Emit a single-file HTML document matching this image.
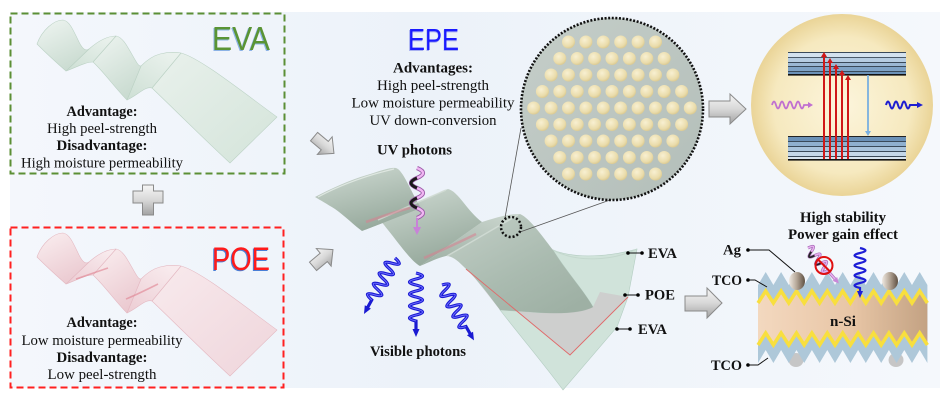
<!DOCTYPE html>
<html><head><meta charset="utf-8">
<style>
html,body{margin:0;padding:0;background:#fff;width:940px;height:413px;overflow:hidden;}
svg{display:block;}
.t{font-family:"Liberation Serif",serif;font-size:14.5px;fill:#111;}
.b{font-weight:bold;}
.s{font-family:"Liberation Sans",sans-serif;}
</style></head><body>
<svg width="940" height="413" viewBox="0 0 940 413" xmlns="http://www.w3.org/2000/svg">
<defs>
 <linearGradient id="bg" x1="0" x2="1" y1="0" y2="0">
  <stop offset="0" stop-color="#f4f7fc"/><stop offset="0.45" stop-color="#ecf2f9"/><stop offset="1" stop-color="#f5f8fc"/>
 </linearGradient>
 <linearGradient id="ag" x1="0" y1="0" x2="0" y2="1">
  <stop offset="0" stop-color="#f6f6f6"/><stop offset="0.5" stop-color="#d8d8d8"/><stop offset="1" stop-color="#a2a2a2"/>
 </linearGradient>
 <radialGradient id="dot" cx="0.4" cy="0.35" r="0.7">
  <stop offset="0" stop-color="#f8f0d2"/><stop offset="0.7" stop-color="#eadcab"/><stop offset="1" stop-color="#d8c68c"/>
 </radialGradient>
 <radialGradient id="sph" cx="0.5" cy="0.5" r="0.5">
  <stop offset="0" stop-color="#fcf5dc"/><stop offset="0.75" stop-color="#f6e9bf"/><stop offset="1" stop-color="#ead497"/>
 </radialGradient>
 <linearGradient id="bigc" x1="0" y1="0" x2="1" y2="1">
  <stop offset="0" stop-color="#c5cec9"/><stop offset="1" stop-color="#b3beb9"/>
 </linearGradient>
 <linearGradient id="cD" x1="0.2" y1="0" x2="0.6" y2="1">
  <stop offset="0" stop-color="#cbd7cf"/><stop offset="1" stop-color="#94a79a"/>
 </linearGradient>
 <linearGradient id="cU" x1="0" y1="1" x2="0.7" y2="0">
  <stop offset="0" stop-color="#9caea2"/><stop offset="1" stop-color="#c6d2ca"/>
 </linearGradient>
 <linearGradient id="cE" x1="0" y1="0" x2="0.8" y2="1">
  <stop offset="0" stop-color="#c3cfc7"/><stop offset="0.6" stop-color="#aabbb0"/><stop offset="1" stop-color="#9eb0a4"/>
 </linearGradient>
 <linearGradient id="eD" x1="0.2" y1="0" x2="0.7" y2="1">
  <stop offset="0" stop-color="#ecf3ef"/><stop offset="1" stop-color="#c8dacf"/>
 </linearGradient>
 <linearGradient id="eU" x1="0" y1="1" x2="0.7" y2="0">
  <stop offset="0" stop-color="#cddfd4"/><stop offset="1" stop-color="#e9f1ec"/>
 </linearGradient>
 <linearGradient id="eE" x1="0" y1="0" x2="1" y2="1">
  <stop offset="0" stop-color="#e9f1ec"/><stop offset="1" stop-color="#d4e4da"/>
 </linearGradient>
 <linearGradient id="pD" x1="0.2" y1="0" x2="0.7" y2="1">
  <stop offset="0" stop-color="#f9ecee"/><stop offset="1" stop-color="#eac8cf"/>
 </linearGradient>
 <linearGradient id="pU" x1="0" y1="1" x2="0.7" y2="0">
  <stop offset="0" stop-color="#ecccd3"/><stop offset="1" stop-color="#f8eaed"/>
 </linearGradient>
 <linearGradient id="pE" x1="0" y1="0" x2="1" y2="1">
  <stop offset="0" stop-color="#f8eaed"/><stop offset="1" stop-color="#efd5db"/>
 </linearGradient>
 <linearGradient id="si" x1="0" y1="0" x2="1" y2="0">
  <stop offset="0" stop-color="#f3d8bf"/><stop offset="0.55" stop-color="#e8c6a6"/><stop offset="1" stop-color="#c3a283"/>
 </linearGradient>
 <linearGradient id="agc" x1="0" y1="0" x2="1" y2="0">
  <stop offset="0" stop-color="#efe9e2"/><stop offset="0.45" stop-color="#b9ab9c"/><stop offset="1" stop-color="#5f5042"/>
 </linearGradient>
</defs>

<!-- background panel -->
<rect x="0" y="0" width="940" height="413" fill="#fff"/>
<rect x="10" y="12" width="930" height="376" fill="url(#bg)"/>

<!-- EVA box -->
<rect x="10.5" y="13.5" width="274" height="160" fill="none" stroke="#5b8f35" stroke-width="2" stroke-dasharray="7 4"/>
<g stroke="#bcd2c5" stroke-width="0.6" stroke-linejoin="round">
<path d="M152,88 L181,53 C200,58 240,90 277,117 L230,163 C205,140 175,110 152,88 Z" fill="url(#eE)"/>
<path d="M127,100 L141,66 C146,61 152,56 160,54 C168,52 175,52 181,53 L152,88 C145,86 138,95 127,100 Z" fill="url(#eU)"/>
<path d="M93,62 L116,36 C124,37 130,52 137,63 C139,66 140,66 141,66 L127,100 C115,88 104,72 93,62 Z" fill="url(#eD)"/>
<path d="M66,71 L89,49 C97,42 106,36 116,36 L93,62 C85,62 75,68 66,71 Z" fill="url(#eU)"/>
<path d="M37,44 C42,30 54,20 63,20 C70,21 74,32 79,42 C83,50 86,51 89,49 L66,71 C58,64 45,52 37,44 Z" fill="url(#eD)"/>
</g>
<text class="s" x="211" y="51" font-size="33" fill="#8db3e6" textLength="58" lengthAdjust="spacingAndGlyphs">EVA</text>
<text class="s" x="212" y="50" font-size="33" fill="#5a9434" textLength="58" lengthAdjust="spacingAndGlyphs">EVA</text>
<text class="t b" x="102" y="116" text-anchor="middle" textLength="71" lengthAdjust="spacingAndGlyphs">Advantage:</text>
<text class="t" x="102" y="133" text-anchor="middle" textLength="110" lengthAdjust="spacingAndGlyphs">High peel-strength</text>
<text class="t b" x="102" y="150" text-anchor="middle" textLength="91" lengthAdjust="spacingAndGlyphs">Disadvantage:</text>
<text class="t" x="102" y="167.5" text-anchor="middle" textLength="162" lengthAdjust="spacingAndGlyphs">High moisture permeability</text>

<!-- plus -->
<path d="M142.5,185 H153.5 V191 H163 V203 H153.5 V215 H142.5 V203 H133 V191 H142.5 Z" fill="url(#ag)" stroke="#8a8a8a" stroke-width="1"/>

<!-- POE box -->
<rect x="10.5" y="227.5" width="273" height="160" fill="none" stroke="#ff2020" stroke-width="2" stroke-dasharray="7 4"/>
<g transform="translate(0,213)">
<g stroke="#e4b9c2" stroke-width="0.6" stroke-linejoin="round">
<path d="M152,88 L181,53 C200,58 240,90 277,117 L230,163 C205,140 175,110 152,88 Z" fill="url(#pE)"/>
<path d="M127,100 L141,66 C146,61 152,56 160,54 C168,52 175,52 181,53 L152,88 C145,86 138,95 127,100 Z" fill="url(#pU)"/>
<path d="M93,62 L116,36 C124,37 130,52 137,63 C139,66 140,66 141,66 L127,100 C115,88 104,72 93,62 Z" fill="url(#pD)"/>
<path d="M66,71 L89,49 C97,42 106,36 116,36 L93,62 C85,62 75,68 66,71 Z" fill="url(#pU)"/>
<path d="M37,44 C42,30 54,20 63,20 C70,21 74,32 79,42 C83,50 86,51 89,49 L66,71 C58,64 45,52 37,44 Z" fill="url(#pD)"/>
</g>
<path d="M76,66 C88,62 96,59 108,55 M126,86 C136,82 146,77 158,71" stroke="#e0808f" stroke-width="1.6" fill="none" opacity="0.6"/>
</g>
<text class="s" x="211" y="271" font-size="32" fill="#4a7fd6" textLength="58" lengthAdjust="spacingAndGlyphs">POE</text>
<text class="s" x="212" y="270" font-size="32" fill="#ff1a1a" textLength="58" lengthAdjust="spacingAndGlyphs">POE</text>
<text class="t b" x="102" y="327" text-anchor="middle" textLength="71" lengthAdjust="spacingAndGlyphs">Advantage:</text>
<text class="t" x="102" y="345" text-anchor="middle" textLength="161" lengthAdjust="spacingAndGlyphs">Low moisture permeability</text>
<text class="t b" x="102" y="362" text-anchor="middle" textLength="91" lengthAdjust="spacingAndGlyphs">Disadvantage:</text>
<text class="t" x="102" y="379" text-anchor="middle" textLength="109" lengthAdjust="spacingAndGlyphs">Low peel-strength</text>

<!-- grey arrows -->
<g transform="translate(324,145) rotate(40)"><polygon points="-13,-5.5 1,-5.5 1,-11.5 13,0 1,11.5 1,5.5 -13,5.5" fill="url(#ag)" stroke="#8a8a8a" stroke-width="1"/></g>
<g transform="translate(323,258) rotate(-40)"><polygon points="-13,-5.5 1,-5.5 1,-11.5 13,0 1,11.5 1,5.5 -13,5.5" fill="url(#ag)" stroke="#8a8a8a" stroke-width="1"/></g>
<polygon points="709,101 730,101 730,94 746,109 730,124 730,117 709,117" fill="url(#ag)" stroke="#8a8a8a" stroke-width="1"/>
<polygon points="685,296 707,296 707,288 722,303 707,318 707,311 685,311" fill="url(#ag)" stroke="#8a8a8a" stroke-width="1"/>

<!-- EPE text -->
<text class="s" x="407" y="51" font-size="31" fill="#a8b0f0" textLength="52" lengthAdjust="spacingAndGlyphs">EPE</text>
<text class="s" x="408" y="50" font-size="31" fill="#1a1aff" textLength="51" lengthAdjust="spacingAndGlyphs">EPE</text>
<text class="t b" x="433" y="72.5" text-anchor="middle" textLength="80" lengthAdjust="spacingAndGlyphs">Advantages:</text>
<text class="t" x="433" y="90" text-anchor="middle" textLength="112" lengthAdjust="spacingAndGlyphs">High peel-strength</text>
<text class="t" x="433" y="107.5" text-anchor="middle" textLength="163" lengthAdjust="spacingAndGlyphs">Low moisture permeability</text>
<text class="t" x="433" y="125" text-anchor="middle" textLength="127" lengthAdjust="spacingAndGlyphs">UV down-conversion</text>

<!-- central sheet: translucent layers -->
<path d="M553,250 C570,257 600,259 637,249 L628,297 L617,327 L563,390 C550,372 530,348 500,310 L530,312 C555,314 580,314 593,307 C585,292 565,270 553,250 Z" fill="#d0e3da" stroke="#b4cdc2" stroke-width="0.6"/>
<polygon points="470,272 570,355 628,297 600,292 593,307 540,313 500,310" fill="#cbbcc2" opacity="0.5"/>
<path d="M553,250 C575,262 610,262 637,249" fill="none" stroke="#c4d8ce" stroke-width="1"/>
<!-- central sheet faces -->
<g stroke-linejoin="round">
<path d="M446,256 L520,214 C530,218 545,240 553,250 C565,270 585,292 593,307 C580,314 555,314 530,312 L500,310 C488,294 478,280 463,266 C457,260 452,256 446,256 Z" fill="url(#cE)"/>
<path d="M420,266 L482,222 C492,219 505,214 520,214 L446,256 C437,258 430,262 420,266 Z" fill="url(#cU)"/>
<path d="M377,219 L448,189 C458,191 468,212 482,222 L420,266 C412,262 400,245 388,230 C383,224 380,219 377,219 Z" fill="url(#cD)"/>
<path d="M362,231 L421,208 C428,201 436,192 448,189 L377,219 C372,222 367,230 362,231 Z" fill="url(#cU)"/>
<path d="M315,197 C330,189 350,180 367,175 C380,171 390,167 396,168 C403,170 410,190 421,208 L362,231 C355,226 345,216 335,209 C327,204 320,200 315,197 Z" fill="url(#cD)"/>
</g>
<path d="M318,197 C335,188 360,177 394,169" stroke="#e6eee9" stroke-width="1.2" fill="none" opacity="0.8"/>
<path d="M378,220 C400,210 425,199 446,190 M447,256 C470,243 495,228 518,215" stroke="#d5e0d9" stroke-width="1.5" fill="none" opacity="0.7"/>
<path d="M366,222 C380,217 394,212 410,208 M424,258 C440,251 458,243 476,234" stroke="#d9808f" stroke-width="2.6" fill="none" opacity="0.55"/>
<polyline points="466,269 570,355 628,297" fill="none" stroke="#e06a6a" stroke-width="0.9"/>

<!-- right sheet labels -->
<line x1="628" y1="253" x2="642" y2="253" stroke="#111" stroke-width="1"/><circle cx="628" cy="253" r="1.8"/><circle cx="642" cy="253" r="1.8"/>
<text class="t b" x="648" y="258" font-size="14" fill="#41681f" textLength="29" lengthAdjust="spacingAndGlyphs">EVA</text>
<line x1="625" y1="295" x2="638" y2="295" stroke="#111" stroke-width="1"/><circle cx="625" cy="295" r="1.8"/><circle cx="638" cy="295" r="1.8"/>
<text class="t b" x="645" y="299.5" font-size="14" fill="#ff1a1a" textLength="30" lengthAdjust="spacingAndGlyphs">POE</text>
<line x1="617" y1="329" x2="630" y2="329" stroke="#111" stroke-width="1"/><circle cx="617" cy="329" r="1.8"/><circle cx="630" cy="329" r="1.8"/>
<text class="t b" x="638" y="334" font-size="14" fill="#41681f" textLength="29" lengthAdjust="spacingAndGlyphs">EVA</text>

<!-- UV photon -->
<text class="t b" x="414.5" y="154.5" font-size="15" fill="#7b3fb0" text-anchor="middle" textLength="75" lengthAdjust="spacingAndGlyphs">UV photons</text>
<path d="M417,168 q12,5 0,10 q-12,5 0,10 q12,5 0,10 q-12,5 0,10 q12,5 0,10" fill="none" stroke="#9a5aa8" stroke-width="4.2"/>
<path d="M417,168 q12,5 0,10 q-12,5 0,10 q12,5 0,10 q-12,5 0,10 q12,5 0,10" fill="none" stroke="#f0b6f2" stroke-width="2.4"/>
<path d="M417,178 q-12,5 0,10 M417,198 q-12,5 0,10" fill="none" stroke="#1a1a1a" stroke-width="3"/>
<line x1="417" y1="218" x2="417" y2="228" stroke="#c882d8" stroke-width="2"/>
<polygon points="413,227 421,227 417,235" fill="#c882d8"/>

<!-- visible photons -->
<g transform="translate(395,258) rotate(29)">
<path d="M0,0 q13,3 0,6 q-13,3 0,6 q13,3 0,6 q-13,3 0,6 q13,3 0,6 q-13,3 0,6 q13,3 0,6 q-13,3 0,6 l0,9" fill="none" stroke="#1a1ad2" stroke-width="3.2"/>
<path d="M0,0 q13,3 0,6 q-13,3 0,6 q13,3 0,6 q-13,3 0,6 q13,3 0,6 q-13,3 0,6 q13,3 0,6 q-13,3 0,6" fill="none" stroke="#6f6fff" stroke-width="1"/>
<polygon points="-3.5,56 3.5,56 0,64" fill="#1a1ad2"/></g>
<g transform="translate(416,273)">
<path d="M0,0 q13,3 0,6 q-13,3 0,6 q13,3 0,6 q-13,3 0,6 q13,3 0,6 q-13,3 0,6 q13,3 0,6 q-13,3 0,6 l0,9" fill="none" stroke="#1a1ad2" stroke-width="3.2"/>
<path d="M0,0 q13,3 0,6 q-13,3 0,6 q13,3 0,6 q-13,3 0,6 q13,3 0,6 q-13,3 0,6 q13,3 0,6 q-13,3 0,6" fill="none" stroke="#6f6fff" stroke-width="1"/>
<polygon points="-3.5,56 3.5,56 0,64" fill="#1a1ad2"/></g>
<g transform="translate(442,285) rotate(-30)">
<path d="M0,0 q13,3 0,6 q-13,3 0,6 q13,3 0,6 q-13,3 0,6 q13,3 0,6 q-13,3 0,6 q13,3 0,6 q-13,3 0,6 l0,9" fill="none" stroke="#1a1ad2" stroke-width="3.2"/>
<path d="M0,0 q13,3 0,6 q-13,3 0,6 q13,3 0,6 q-13,3 0,6 q13,3 0,6 q-13,3 0,6 q13,3 0,6 q-13,3 0,6" fill="none" stroke="#6f6fff" stroke-width="1"/>
<polygon points="-3.5,56 3.5,56 0,64" fill="#1a1ad2"/></g>
<text class="t b" x="418" y="356" font-size="15" fill="#2323e8" text-anchor="middle" textLength="96" lengthAdjust="spacingAndGlyphs">Visible photons</text>

<!-- zoom lines and circles -->
<line x1="505" y1="218" x2="521" y2="128" stroke="#555" stroke-width="0.8"/>
<line x1="520" y1="232" x2="610" y2="200" stroke="#555" stroke-width="0.8"/>
<circle cx="511" cy="227" r="10" fill="none" stroke="#111" stroke-width="2.5" stroke-dasharray="2 2"/>
<circle cx="612" cy="109" r="91" fill="url(#bigc)" stroke="#111" stroke-width="2.6" stroke-dasharray="2 1.6"/>
<g fill="url(#dot)">
<circle cx="568.5" cy="42" r="6.5"/><circle cx="585.9" cy="42" r="6.5"/><circle cx="603.3" cy="42" r="6.5"/><circle cx="620.7" cy="42" r="6.5"/><circle cx="638.1" cy="42" r="6.5"/><circle cx="655.5" cy="42" r="6.5"/>
<circle cx="559.8" cy="58.5" r="6.5"/><circle cx="577.2" cy="58.5" r="6.5"/><circle cx="594.6" cy="58.5" r="6.5"/><circle cx="612" cy="58.5" r="6.5"/><circle cx="629.4" cy="58.5" r="6.5"/><circle cx="646.8" cy="58.5" r="6.5"/><circle cx="664.2" cy="58.5" r="6.5"/>
<circle cx="551.1" cy="75" r="6.5"/><circle cx="568.5" cy="75" r="6.5"/><circle cx="585.9" cy="75" r="6.5"/><circle cx="603.3" cy="75" r="6.5"/><circle cx="620.7" cy="75" r="6.5"/><circle cx="638.1" cy="75" r="6.5"/><circle cx="655.5" cy="75" r="6.5"/><circle cx="672.9" cy="75" r="6.5"/>
<circle cx="542.4" cy="91.5" r="6.5"/><circle cx="559.8" cy="91.5" r="6.5"/><circle cx="577.2" cy="91.5" r="6.5"/><circle cx="594.6" cy="91.5" r="6.5"/><circle cx="612" cy="91.5" r="6.5"/><circle cx="629.4" cy="91.5" r="6.5"/><circle cx="646.8" cy="91.5" r="6.5"/><circle cx="664.2" cy="91.5" r="6.5"/><circle cx="681.6" cy="91.5" r="6.5"/>
<circle cx="533.7" cy="108" r="6.5"/><circle cx="551.1" cy="108" r="6.5"/><circle cx="568.5" cy="108" r="6.5"/><circle cx="585.9" cy="108" r="6.5"/><circle cx="603.3" cy="108" r="6.5"/><circle cx="620.7" cy="108" r="6.5"/><circle cx="638.1" cy="108" r="6.5"/><circle cx="655.5" cy="108" r="6.5"/><circle cx="672.9" cy="108" r="6.5"/><circle cx="690.3" cy="108" r="6.5"/>
<circle cx="542.4" cy="124.5" r="6.5"/><circle cx="559.8" cy="124.5" r="6.5"/><circle cx="577.2" cy="124.5" r="6.5"/><circle cx="594.6" cy="124.5" r="6.5"/><circle cx="612" cy="124.5" r="6.5"/><circle cx="629.4" cy="124.5" r="6.5"/><circle cx="646.8" cy="124.5" r="6.5"/><circle cx="664.2" cy="124.5" r="6.5"/><circle cx="681.6" cy="124.5" r="6.5"/>
<circle cx="551.1" cy="141" r="6.5"/><circle cx="568.5" cy="141" r="6.5"/><circle cx="585.9" cy="141" r="6.5"/><circle cx="603.3" cy="141" r="6.5"/><circle cx="620.7" cy="141" r="6.5"/><circle cx="638.1" cy="141" r="6.5"/><circle cx="655.5" cy="141" r="6.5"/><circle cx="672.9" cy="141" r="6.5"/>
<circle cx="559.8" cy="157.5" r="6.5"/><circle cx="577.2" cy="157.5" r="6.5"/><circle cx="594.6" cy="157.5" r="6.5"/><circle cx="612" cy="157.5" r="6.5"/><circle cx="629.4" cy="157.5" r="6.5"/><circle cx="646.8" cy="157.5" r="6.5"/><circle cx="664.2" cy="157.5" r="6.5"/>
<circle cx="568.5" cy="174" r="6.5"/><circle cx="585.9" cy="174" r="6.5"/><circle cx="603.3" cy="174" r="6.5"/><circle cx="620.7" cy="174" r="6.5"/><circle cx="638.1" cy="174" r="6.5"/><circle cx="655.5" cy="174" r="6.5"/>
</g>

<!-- sphere with energy levels -->
<circle cx="842" cy="105" r="91" fill="url(#sph)"/>
<g>
<rect x="788" y="52" width="118" height="1" fill="#3a4a5a"/>
<rect x="788" y="53" width="118" height="4" fill="#d3e2ef"/>
<rect x="788" y="57" width="118" height="1" fill="#4a5a6a"/>
<rect x="788" y="58" width="118" height="4" fill="#b6cde2"/>
<rect x="788" y="62" width="118" height="1" fill="#3a4a5a"/>
<rect x="788" y="63" width="118" height="3" fill="#9bb8d4"/>
<rect x="788" y="66" width="118" height="1" fill="#3a4a5a"/>
<rect x="788" y="67" width="118" height="4" fill="#7fa3c6"/>
<rect x="788" y="71" width="118" height="1" fill="#3a4a5a"/>
<rect x="788" y="72" width="118" height="2" fill="#6b91b7"/>
<rect x="788" y="74" width="118" height="1.6" fill="#111"/>
<rect x="788" y="136" width="118" height="1" fill="#222"/>
<rect x="788" y="137" width="118" height="4" fill="#6b91b7"/>
<rect x="788" y="141" width="118" height="1" fill="#3a4a5a"/>
<rect x="788" y="142" width="118" height="4" fill="#8fb0cf"/>
<rect x="788" y="146" width="118" height="1" fill="#3a4a5a"/>
<rect x="788" y="147" width="118" height="4" fill="#a9c4dc"/>
<rect x="788" y="151" width="118" height="1" fill="#3a4a5a"/>
<rect x="788" y="152" width="118" height="4" fill="#c4d7e8"/>
<rect x="788" y="156" width="118" height="1" fill="#3a4a5a"/>
<rect x="788" y="157" width="118" height="2" fill="#d7e4ef"/>
<rect x="788" y="159" width="118" height="1.6" fill="#111"/>
</g>
<g stroke="#d01818" stroke-width="2">
<line x1="824" y1="159" x2="824" y2="56"/><line x1="830" y1="159" x2="830" y2="62"/><line x1="836" y1="159" x2="836" y2="68"/><line x1="842" y1="159" x2="842" y2="74"/><line x1="848" y1="159" x2="848" y2="79"/>
</g>
<g fill="#d01818">
<polygon points="821,57 827,57 824,52"/><polygon points="827,63 833,63 830,58"/><polygon points="833,69 839,69 836,64"/><polygon points="839,75 845,75 842,70"/><polygon points="845,80 851,80 848,75"/>
</g>
<line x1="868" y1="75" x2="868" y2="132" stroke="#7ab0e0" stroke-width="1.8"/>
<polygon points="865,131 871,131 868,136" fill="#7ab0e0"/>
<path d="M772,105 q2,-7 4,0 q2,7 4,0 q2,-7 4,0 q2,7 4,0 q2,-7 4,0 q2,7 4,0 q2,-7 4,0 q2,7 4,0 L809,105" fill="none" stroke="#c070d0" stroke-width="1.8"/>
<polygon points="808,102 808,108 813,105" fill="#c070d0"/>
<path d="M886,105 q2,-7 4,0 q2,7 4,0 q2,-7 4,0 q2,7 4,0 q2,-7 4,0 q2,7 4,0 L918,105" fill="none" stroke="#1e1ed0" stroke-width="2"/>
<polygon points="917,102 917,108 923,105" fill="#1e1ed0"/>

<!-- solar cell -->
<text class="t b" x="843" y="222" font-size="15" text-anchor="middle" textLength="86" lengthAdjust="spacingAndGlyphs">High stability</text>
<text class="t b" x="843" y="239" font-size="15" text-anchor="middle" textLength="110" lengthAdjust="spacingAndGlyphs">Power gain effect</text>
<ellipse cx="796" cy="360" rx="7.5" ry="7" fill="#c6c6c6"/>
<ellipse cx="896" cy="360" rx="7.5" ry="7" fill="#c6c6c6"/>
<polygon points="758,285 765.7,272 773.4,285 781.1,272 788.8,285 796.5,272 804.2,285 811.9,272 819.6,285 827.3,272 835,285 842.7,272 850.4,285 858.1,272 865.8,285 873.5,272 881.2,285 888.9,272 896.6,285 904.3,272 912,285 919.7,272 927.4,285 927.4,363 919.7,350 912,363 904.3,350 896.6,363 888.9,350 881.2,363 873.5,350 865.8,363 858.1,350 850.4,363 842.7,350 835,363 827.3,350 819.6,363 811.9,350 804.2,363 796.5,350 788.8,363 781.1,350 773.4,363 765.7,350 758,363" fill="#aec8d9"/>
<polygon points="758,303 765.7,291 773.4,303 781.1,291 788.8,303 796.5,291 804.2,303 811.9,291 819.6,303 827.3,291 835,303 842.7,291 850.4,303 858.1,291 865.8,303 873.5,291 881.2,303 888.9,291 896.6,303 904.3,291 912,303 919.7,291 927.4,303 927.4,345 919.7,333 912,345 904.3,333 896.6,345 888.9,333 881.2,345 873.5,333 865.8,345 858.1,333 850.4,345 842.7,333 835,345 827.3,333 819.6,345 811.9,333 804.2,345 796.5,333 788.8,345 781.1,333 773.4,345 765.7,333 758,345" fill="url(#si)"/>
<polyline points="758,303 765.7,291 773.4,303 781.1,291 788.8,303 796.5,291 804.2,303 811.9,291 819.6,303 827.3,291 835,303 842.7,291 850.4,303 858.1,291 865.8,303 873.5,291 881.2,303 888.9,291 896.6,303 904.3,291 912,303 919.7,291 927.4,303" fill="none" stroke="#f8df3e" stroke-width="3.5"/>
<polyline points="758,345 765.7,333 773.4,345 781.1,333 788.8,345 796.5,333 804.2,345 811.9,333 819.6,345 827.3,333 835,345 842.7,333 850.4,345 858.1,333 865.8,345 873.5,333 881.2,345 888.9,333 896.6,345 904.3,333 912,345 919.7,333 927.4,345" fill="none" stroke="#f8df3e" stroke-width="3.5"/>
<ellipse cx="797" cy="281" rx="8" ry="9" fill="url(#agc)"/>
<ellipse cx="890" cy="281" rx="8" ry="9" fill="url(#agc)"/>
<text class="t b" x="843" y="326" font-size="15" text-anchor="middle" textLength="26" lengthAdjust="spacingAndGlyphs">n-Si</text>

<!-- cell labels -->
<text class="t b" x="723" y="254.5" font-size="14.5" textLength="18" lengthAdjust="spacingAndGlyphs">Ag</text>
<circle cx="748" cy="250" r="1.8"/><polyline points="748,250 769,250 795,272" fill="none" stroke="#111" stroke-width="1"/>
<text class="t b" x="712" y="285" font-size="14" textLength="30" lengthAdjust="spacingAndGlyphs">TCO</text>
<circle cx="748" cy="280" r="1.8"/><polyline points="748,280 755,280 767,287" fill="none" stroke="#111" stroke-width="1"/>
<text class="t b" x="711" y="370" font-size="14" textLength="31" lengthAdjust="spacingAndGlyphs">TCO</text>
<circle cx="748" cy="365" r="1.8"/><polyline points="748,365 758,365 768,358" fill="none" stroke="#111" stroke-width="1"/>

<!-- cell photons -->
<g transform="translate(808,248) rotate(-41)">
<path d="M0,0 q10,2.5 0,5 q-10,2.5 0,5 q10,2.5 0,5 q-10,2.5 0,5 q10,2.5 0,5 q-10,2.5 0,5 l0,12" fill="none" stroke="#a86cb8" stroke-width="3"/>
<path d="M0,0 q10,2.5 0,5 q-10,2.5 0,5 q10,2.5 0,5 q-10,2.5 0,5 q10,2.5 0,5 q-10,2.5 0,5 l0,12" fill="none" stroke="#e6b0ee" stroke-width="1.6"/>
<path d="M0,5 q-10,2.5 0,5 M0,15 q-10,2.5 0,5" fill="none" stroke="#222" stroke-width="1.8"/>
<polygon points="-3,41 3,41 0,47" fill="#c888d8"/></g>
<circle cx="824" cy="265.5" r="8.5" fill="none" stroke="#e01010" stroke-width="2"/>
<line x1="818" y1="259.5" x2="830" y2="271.5" stroke="#e01010" stroke-width="2"/>
<path d="M860,248 q11,2.5 0,5 q-11,2.5 0,5 q11,2.5 0,5 q-11,2.5 0,5 q11,2.5 0,5 q-11,2.5 0,5 q11,2.5 0,5 q-11,2.5 0,5 L860,292" fill="none" stroke="#1e1ed6" stroke-width="2.2"/>
<polygon points="857,291 863,291 860,298" fill="#1e1ed6"/>
</svg>
</body></html>
